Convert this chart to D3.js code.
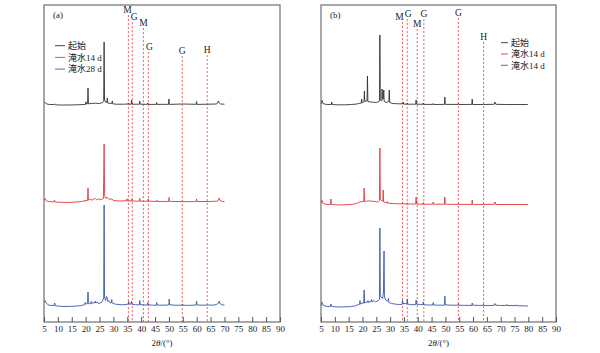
<!DOCTYPE html>
<html>
<head>
<meta charset="utf-8">
<script src="https://cdn.jsdelivr.net/npm/d3@7"></script>
<style>
  body { margin: 0; background: #fff; }
  svg text { font-family: "Liberation Serif", "Noto Sans CJK SC", serif; }
</style>
</head>
<body>
<div id="main"></div>
<script>
// 2theta axis ticks
var ticks2T = [5, 10, 15, 20, 25, 30, 35, 40, 45, 50, 55, 60, 65, 70, 75, 80, 85, 90];

// legend names
var namesA = ['起始', '淹水14 d', '淹水28 d'];
var namesB = ['起始', '淹水14 d', '淹水14 d'];

// phase marks [2theta, label]
var phasesA = [[35.4, 'M'], [36.8, 'G'], [40.8, 'M'], [42.6, 'G'], [54.8, 'G'], [63.8, 'H']];
var phasesB = [[34.5, 'M'], [36.2, 'G'], [39.8, 'M'], [42.2, 'G'], [54.7, 'G'], [63.8, 'H']];

// stacking offsets (a.u.) for start / 14 d / 28 d
var offsetsA = [2010, 1040, 0];
var offsetsB = [2020, 1020, 0];

// patterns [2theta, intensity a.u.]
var a0 = [[5,180],[5.5,185],[6,170],[7,165],[8.6,165],[8.8,172],[9.0,162],[11,160],[14,160],[17,162],[19,165],[19.95,166],[20.1,192],[20.25,170],[20.7,172],[20.85,330],[21.0,172],[22,175],[23.5,178],[25,175],[26.2,185],[26.5,195],[26.65,790],[26.8,210],[27.3,185],[27.65,190],[27.8,230],[27.95,180],[29.0,175],[29.45,176],[29.6,200],[29.75,172],[31,168],[34,168],[35.25,170],[35.4,180],[35.55,168],[36.4,168],[36.55,210],[36.7,168],[39.35,168],[39.5,200],[39.65,168],[42.25,167],[42.4,180],[42.55,166],[45.45,166],[45.6,185],[45.75,166],[49.85,167],[50.0,220],[50.15,166],[55,170],[59.8,167],[59.95,195],[60.1,166],[64,168],[67.2,170],[67.5,182],[67.8,200],[68.1,182],[68.6,170],[70,168]];
var a14 = [[5,180],[5.4,195],[5.8,172],[6.5,165],[8,162],[8.65,162],[8.8,178],[8.95,160],[11,157],[14,156],[17,160],[19,168],[19.7,170],[19.8,180],[19.95,170],[20.7,176],[20.85,300],[21.0,180],[21.8,188],[22.3,178],[23.0,190],[23.5,195],[24.0,182],[24.6,192],[25.2,182],[25.8,188],[26.4,195],[26.65,740],[26.85,215],[27.3,195],[27.6,210],[27.9,200],[28.3,188],[29.5,190],[30,175],[32,170],[34.75,172],[34.9,192],[35.05,172],[36.45,170],[36.6,188],[36.75,170],[39.35,168],[39.5,195],[39.65,168],[42.35,168],[42.5,190],[42.65,168],[45.55,166],[45.7,178],[45.85,165],[49.9,166],[50.05,205],[50.2,166],[54.75,164],[54.9,172],[55.05,163],[59.8,164],[59.95,190],[60.1,165],[64,165],[67.5,168],[67.8,180],[68.1,200],[68.4,175],[69.2,165],[70,165]];
var a28 = [[5,200],[5.4,215],[5.8,190],[6.5,172],[7.5,165],[8.7,166],[8.85,190],[9.0,163],[10.5,158],[12,155],[14,156],[16,158],[18,163],[19.5,172],[19.65,174],[19.8,195],[19.95,178],[20.7,185],[20.85,300],[21.0,185],[21.6,182],[21.85,185],[22.0,205],[22.15,185],[23.0,195],[23.35,192],[23.5,210],[23.65,190],[24.3,200],[24.6,185],[25.2,190],[25.7,195],[26.2,220],[26.5,240],[26.65,1170],[26.8,250],[27.2,215],[27.5,255],[27.8,240],[28.0,205],[28.3,215],[28.8,190],[29.25,192],[29.4,225],[29.55,190],[30.5,180],[31.5,176],[33,172],[34.5,175],[35.35,180],[35.5,205],[35.65,180],[36.35,178],[36.5,205],[36.65,178],[38,172],[39.35,172],[39.5,215],[39.65,175],[41,170],[42.25,170],[42.4,195],[42.55,172],[44,168],[45.45,168],[45.6,195],[45.75,170],[47.5,168],[49.95,170],[50.1,230],[50.25,172],[52,168],[54.75,168],[54.9,180],[55.05,168],[57,166],[59.8,170],[59.95,210],[60.1,170],[62,168],[64,170],[66,168],[67.5,180],[67.85,190],[68.1,210],[68.35,185],[69,172],[70,170]];

var b0 = [[5,160],[5.3,200],[5.7,165],[6.5,158],[7.5,155],[8.75,156],[8.9,180],[9.05,155],[11,152],[14,152],[16,155],[18,160],[19,168],[19.55,168],[19.7,210],[19.85,172],[20.4,180],[20.55,182],[20.7,290],[20.85,185],[21.5,190],[21.65,190],[21.8,440],[21.95,185],[23,180],[24,178],[25,175],[26.0,185],[26.15,190],[26.3,850],[26.45,200],[26.9,190],[27.0,195],[27.1,310],[27.25,210],[27.55,210],[27.7,300],[27.85,185],[28.6,175],[29.4,185],[29.55,185],[29.7,300],[29.85,175],[31,165],[33,162],[34.55,162],[34.7,180],[34.85,160],[36.05,158],[36.2,170],[36.35,158],[39.25,158],[39.4,200],[39.55,158],[41.85,157],[42,170],[42.15,156],[45.45,156],[45.6,165],[45.75,155],[49.65,156],[49.8,230],[49.95,156],[54.55,156],[54.7,165],[54.85,155],[59.55,156],[59.7,210],[59.85,155],[63.65,155],[63.8,162],[63.95,155],[67.6,157],[67.9,180],[68.2,157],[72,155],[76,155],[79.8,155]];
var b14 = [[5,170],[5.3,200],[5.7,168],[6.5,158],[7.5,155],[8.45,156],[8.6,210],[8.75,155],[10,152],[12,150],[14,152],[16,155],[17.9,165],[19,180],[20.0,185],[20.45,182],[20.6,320],[20.75,185],[21.5,188],[22.2,192],[23,190],[23.7,185],[24.4,188],[25.1,180],[25.8,185],[26.15,195],[26.3,720],[26.45,210],[27.0,190],[27.35,192],[27.5,300],[27.65,180],[28.5,172],[28.85,172],[29.0,185],[29.15,168],[31,165],[33,162],[34.35,162],[34.5,175],[34.65,162],[36.05,160],[36.2,172],[36.35,160],[39.25,160],[39.4,230],[39.55,160],[41.85,158],[42.0,175],[42.15,158],[45.45,158],[45.6,180],[45.75,158],[49.65,158],[49.8,230],[49.95,158],[54.55,156],[54.7,168],[54.85,156],[59.55,156],[59.7,200],[59.85,156],[63.65,155],[63.8,165],[63.95,155],[67.6,157],[67.9,180],[68.2,155],[72,155],[76,155],[79.8,155]];
var b28 = [[5,165],[5.3,200],[5.7,170],[6.5,160],[7.5,155],[8.45,156],[8.6,180],[8.75,158],[10,152],[12,150],[14,152],[16,155],[17.5,162],[18.5,175],[18.95,176],[19.1,215],[19.25,180],[20.0,190],[20.45,188],[20.6,320],[20.75,190],[21.5,200],[21.85,198],[22.0,215],[22.15,195],[22.8,205],[23.15,205],[23.3,225],[23.45,200],[24.2,215],[24.8,200],[25.3,210],[25.8,215],[26.15,230],[26.3,940],[26.45,260],[27.0,240],[27.3,235],[27.6,300],[27.8,710],[27.95,250],[28.4,220],[29.0,210],[29.25,212],[29.4,235],[29.55,195],[30.5,185],[32,178],[33.5,175],[34.35,176],[34.5,215],[34.65,185],[36.05,182],[36.2,230],[36.35,180],[37.5,172],[39.25,175],[39.4,220],[39.55,178],[41,175],[41.85,174],[42.0,200],[42.15,172],[44,170],[45.45,170],[45.6,195],[45.75,170],[47.5,168],[49.65,168],[49.8,260],[49.95,172],[52,168],[54.55,168],[54.7,185],[54.85,168],[57,166],[59.55,166],[59.7,190],[59.85,168],[62,166],[63.65,166],[63.8,178],[63.95,165],[66,165],[67.6,166],[67.9,185],[68.2,168],[70,165],[72.05,166],[72.2,175],[72.35,165],[75.65,164],[75.8,172],[75.95,163],[78,162],[79.8,160]];

var colors = ['#333333', '#e3383c', '#3a58a6'];

var W = 600, H = 353;
var plotTop = 5, plotBottom = 322;

var svg = d3.select('#main').append('svg')
    .attr('width', W).attr('height', H);

var yScale = d3.scaleLinear().domain([0, 3170]).range([plotBottom, plotTop]);

// label layout per phase mark: [dx, label centre y]
var markLayoutA = [[-1, 10], [2, 17], [0, 23], [1, 47], [0, 51], [0, 50]];
var markLayoutB = [[-3, 17], [1, 14], [0, 24], [0, 14], [0, 13], [0, 37]];

function drawPanel(cfg) {
    var xScale = d3.scaleLinear().domain([5, 90]).range([cfg.left, cfg.right]);
    var g = svg.append('g');

    // phase lines
    cfg.phases.forEach(function (p, i) {
        var lay = cfg.markLayout[i];
        var x = xScale(p[0]);
        g.append('line')
            .attr('x1', x).attr('x2', x)
            .attr('y1', lay[1] + 5).attr('y2', plotBottom)
            .attr('stroke', '#e85a5e')
            .attr('stroke-width', 0.9)
            .attr('stroke-dasharray', '2.2,1.8');
        g.append('text')
            .attr('x', x + lay[0]).attr('y', lay[1] + 3.3)
            .attr('text-anchor', 'middle')
            .style('font-size', '9.5px')
            .attr('fill', '#222')
            .text(p[1]);
    });

    var line = d3.line()
        .x(function (d) { return xScale(d[0]); });

    cfg.series.forEach(function (s, i) {
        line.y(function (d) { return yScale(d[1] + cfg.offsets[i]); });
        g.append('path')
            .datum(s)
            .attr('d', line)
            .attr('fill', 'none')
            .attr('stroke', colors[i])
            .attr('stroke-width', 0.9)
            .attr('stroke-linejoin', 'round');
    });

    // frame
    g.append('rect')
        .attr('x', cfg.left).attr('y', plotTop)
        .attr('width', cfg.right - cfg.left).attr('height', plotBottom - plotTop)
        .attr('fill', 'none')
        .attr('stroke', '#7a7a7a')
        .attr('stroke-width', 1.3);

    var xAxis = d3.axisBottom(xScale)
        .tickValues(ticks2T)
        .tickSize(-5)
        .tickSizeOuter(0)
        .tickPadding(4);

    var ax = g.append('g')
        .attr('transform', 'translate(0,' + plotBottom + ')')
        .call(xAxis);
    ax.select('.domain').remove();
    ax.selectAll('line').attr('stroke', '#555');
    ax.selectAll('text')
        .style('font-size', '9px')
        .attr('fill', '#222');

    var lab = g.append('text')
        .attr('x', (cfg.left + cfg.right) / 2)
        .attr('y', 346)
        .attr('text-anchor', 'middle')
        .style('font-size', '9px')
        .attr('fill', '#222');
    lab.append('tspan').text('2');
    lab.append('tspan').attr('font-style', 'italic').text('θ');
    lab.append('tspan').text('/(°)');

    g.append('text')
        .attr('x', cfg.left + 9).attr('y', 18)
        .style('font-size', '9px')
        .attr('fill', '#222')
        .text(cfg.tag);

    // legend
    cfg.names.forEach(function (n, i) {
        var yy = cfg.legY + i * cfg.legStep;
        g.append('line')
            .attr('x1', cfg.legX).attr('x2', cfg.legX + cfg.legLen)
            .attr('y1', yy).attr('y2', yy)
            .attr('stroke', colors[i])
            .attr('stroke-width', 0.9);
        g.append('text')
            .attr('x', cfg.legX + cfg.legLen + 3).attr('y', yy + 3.3)
            .style('font-size', '9px')
            .attr('fill', '#222')
            .text(n);
    });
}

drawPanel({
    left: 44, right: 280, tag: '(a)',
    series: [a0, a14, a28], offsets: offsetsA,
    phases: phasesA, markLayout: markLayoutA,
    names: namesA, legX: 55, legLen: 10, legY: 45.7, legStep: 11.7
});

drawPanel({
    left: 321, right: 556, tag: '(b)',
    series: [b0, b14, b28], offsets: offsetsB,
    phases: phasesB, markLayout: markLayoutB,
    names: namesB, legX: 501, legLen: 7, legY: 42.7, legStep: 11.3
});
</script>
</body>
</html>
